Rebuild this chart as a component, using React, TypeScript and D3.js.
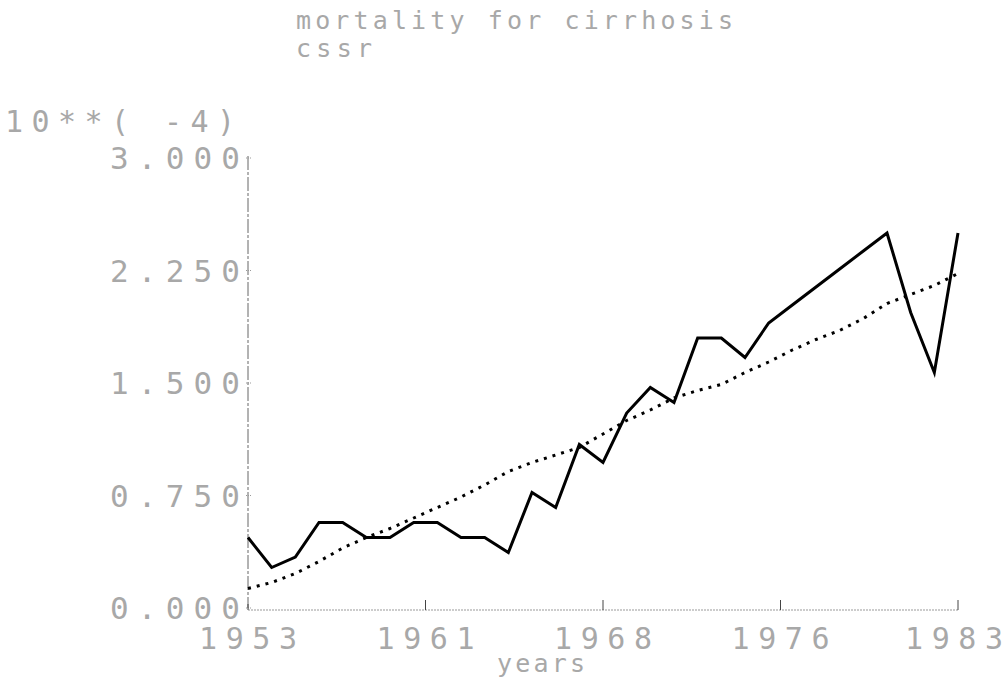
import React from 'react';
import * as d3 from 'd3';

// observed mortality, 1953..1983 (units of 10**-4)
const years = d3.range(1953, 1984);
const observed = [
  0.47, 0.27, 0.34, 0.57, 0.57, 0.47, 0.47, 0.57, 0.57, 0.47, 0.47,
  0.37, 0.77, 0.67, 1.09, 0.97, 1.30, 1.47, 1.37, 1.80, 1.80, 1.67,
  1.90, 2.02, 2.14, 2.26, 2.38, 2.50, 1.97, 1.57, 2.50,
];
// smoothed trend
const trend = [
  0.13, 0.17, 0.23, 0.31, 0.40, 0.47, 0.53, 0.60, 0.67, 0.74, 0.82,
  0.91, 0.97, 1.02, 1.07, 1.16, 1.25, 1.32, 1.40, 1.45, 1.49, 1.57,
  1.64, 1.72, 1.79, 1.85, 1.93, 2.03, 2.09, 2.15, 2.23,
];

const yTicks = [0, 0.75, 1.5, 2.25, 3];
const xTicks = [1953, 1960.5, 1968, 1975.5, 1983];
const xTickLabels = ['1953', '1961', '1968', '1976', '1983'];

const W = 1007;
const H = 686;
const textColor = '#a8a8a8';
const mono = '"DejaVu Sans Mono", "Liberation Mono", monospace';

const App: React.FC = () => {
  const x = d3.scaleLinear().domain([1953, 1983]).range([248, 958]);
  const y = d3.scaleLinear().domain([0, 3]).range([608, 158]);

  const line = d3
    .line<number>()
    .x((_, i) => x(years[i]))
    .y((d) => y(d));

  const labelW = 98;

  return (
    <svg
      width={W}
      height={H}
      style={{ position: 'absolute', left: 0, top: 0, background: '#fff' }}
    >
      {/* titles */}
      <text x={296} y={29} fontFamily={mono} fontSize={25} fill={textColor}
        textLength={437} lengthAdjust="spacing">
        mortality for cirrhosis
      </text>
      <text x={296} y={57} fontFamily={mono} fontSize={25} fill={textColor}
        textLength={76} lengthAdjust="spacing">
        cssr
      </text>
      <text x={5} y={132} fontFamily={mono} fontSize={30} fill={textColor}
        textLength={230} lengthAdjust="spacing">
        10**( -4)
      </text>

      {/* y axis */}
      <line x1={248} x2={248} y1={y(3) - 2} y2={y(0)} stroke="#666" strokeWidth={1} strokeDasharray="14 2 3 2" />
      {yTicks.map((t) => (
        <g key={t}>
          <line x1={246} x2={252} y1={y(t)} y2={y(t)} stroke="#999" strokeWidth={1} strokeDasharray="1 1" />
          <text x={240} y={y(t) + 11} textAnchor="end" fontFamily={mono} fontSize={31}
            fill={textColor} textLength={130} lengthAdjust="spacing">
            {t.toFixed(3)}
          </text>
        </g>
      ))}

      {/* x axis */}
      <line x1={248} x2={958} y1={610} y2={610} stroke="#999" strokeWidth={1} strokeDasharray="2 1" />
      {xTicks.map((t, i) => (
        <g key={t}>
          <line x1={x(t)} x2={x(t)} y1={610} y2={i === 0 ? 604 : 600} stroke="#444" strokeWidth={1} />
          <text x={Math.min(x(t), W - 4 - labelW / 2)} y={649} textAnchor="middle" fontFamily={mono} fontSize={30}
            fill={textColor} textLength={labelW} lengthAdjust="spacing">
            {xTickLabels[i]}
          </text>
        </g>
      ))}
      <text x={541} y={672} textAnchor="middle" fontFamily={mono} fontSize={25} fill={textColor}
        textLength={88} lengthAdjust="spacing">
        years
      </text>

      {/* series */}
      <path d={line(trend) ?? ''} fill="none" stroke="#000" strokeWidth={3}
        strokeDasharray="3 6" />
      <path d={line(observed) ?? ''} fill="none" stroke="#000" strokeWidth={3}
        strokeLinejoin="miter" />
    </svg>
  );
};

export default App;
